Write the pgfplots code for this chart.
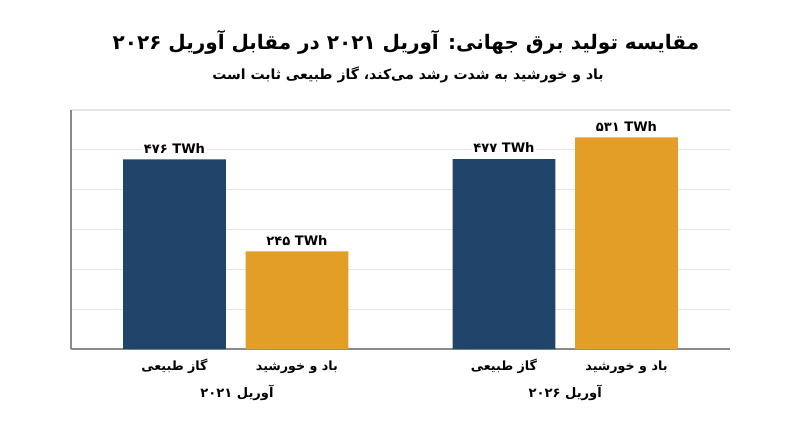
\documentclass[border=0pt]{standalone}
\usepackage{fontspec}
\usepackage{pgfplots}
\pgfplotsset{compat=1.18}
\TeXXeTstate=1
\setmainfont{DejaVu Sans}
\newfontfamily\fa[Script=Arabic]{DejaVu Sans}
\definecolor{gasblue}{HTML}{21446A}
\definecolor{windorange}{HTML}{E29E27}
\definecolor{gridgray}{HTML}{E4E4E4}
\definecolor{axisgray}{HTML}{8A8A8A}

\begin{document}
\begin{tikzpicture}[x=0.75pt,y=0.75pt]
\begin{axis}[
	at={(53.25pt,73.5pt)}, anchor=south west,
	scale only axis,
	width=494.25pt, height=179.25pt,
	xmin=-0.845, xmax=4.535,
	ymin=0, ymax=600,
	ytick={0,100,...,600},
	yticklabels={},
	xtick={0,1,2.69,3.69},
	xticklabels={
		{\fa\bfseries\beginR گاز طبیعی\endR},
		{\fa\bfseries\beginR باد و خورشید\endR},
		{\fa\bfseries\beginR گاز طبیعی\endR},
		{\fa\bfseries\beginR باد و خورشید\endR}},
	x tick label style={font=\fontsize{9.5}{11}\selectfont, anchor=base, yshift=-16pt},
	major tick length=0pt,
	axis x line=bottom, axis y line=left,
	axis line style={-, axisgray, line width=0.8pt},
	ymajorgrids=true,
	grid style={gridgray, line width=0.8pt},
	ybar, bar width=0.84, bar shift=0pt,
	point meta=explicit symbolic,
	nodes near coords={\fa\bfseries\pgfplotspointmeta},
	nodes near coords style={font=\fontsize{9.8}{11}\selectfont, fill=white, inner sep=1.5pt, anchor=south, yshift=3pt},
	clip=false,
]
\addplot[fill=gasblue, draw=none] coordinates {(0,476) [۴۷۶ TWh] (2.69,477) [۴۷۷ TWh]};
\addplot[fill=windorange, draw=none] coordinates {(1,245) [۲۴۵ TWh] (3.69,531) [۵۳۱ TWh]};
\node[font=\fontsize{9.8}{11}\selectfont\fa\bfseries] at (axis cs:0.51,0) [yshift=-33pt] {\beginR آوریل ۲۰۲۱\endR};
\node[font=\fontsize{9.8}{11}\selectfont\fa\bfseries] at (axis cs:3.19,0) [yshift=-33pt] {\beginR آوریل ۲۰۲۶\endR};
\end{axis}
\node[font=\fontsize{15}{18}\selectfont\fa\bfseries] at (406,405) {\beginR مقایسه تولید برق جهانی: آوریل ۲۰۲۱ در مقابل آوریل ۲۰۲۶\endR};
\node[font=\fontsize{10.5}{13}\selectfont\fa\bfseries] at (408,372) {\beginR باد و خورشید به شدت رشد می‌کند، گاز طبیعی ثابت است\endR};
\pgfresetboundingbox
\path (0,0) rectangle (800,447);
\end{tikzpicture}
\end{document}
